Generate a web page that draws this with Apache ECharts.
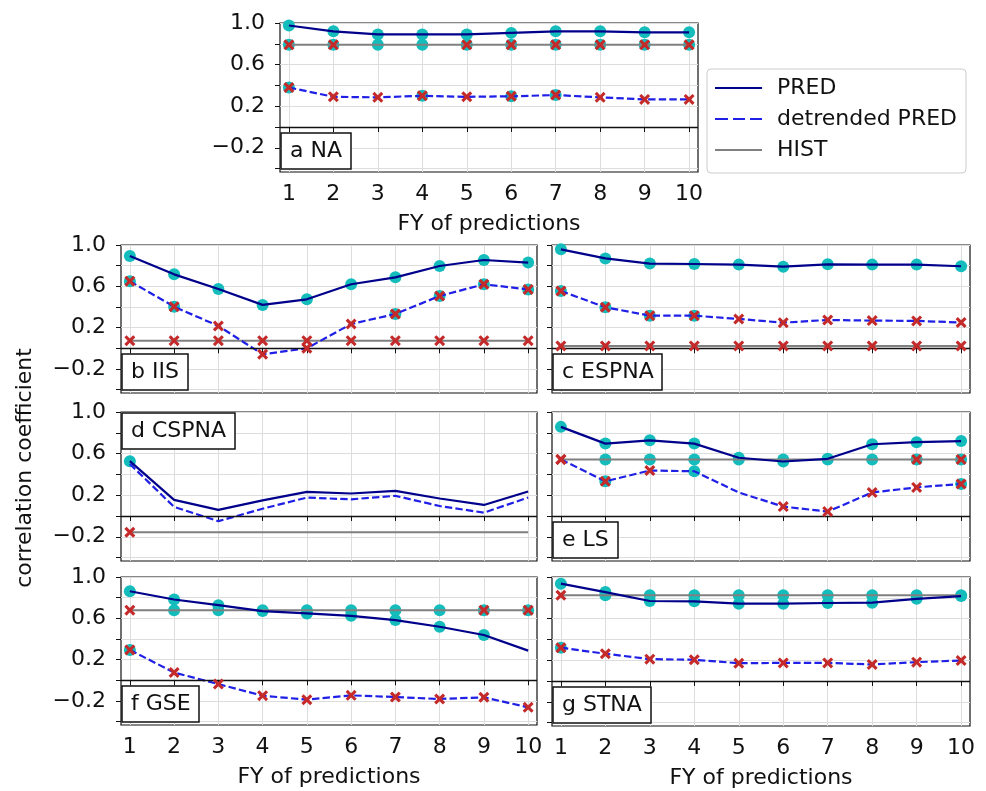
<!DOCTYPE html>
<html>
<head>
<meta charset="utf-8">
<script src="https://cdn.jsdelivr.net/npm/echarts@6/dist/echarts.min.js"></script>
<style>
  html, body { margin: 0; padding: 0; background: #fff; }
  #chart { width: 986px; height: 791px; }
</style>
</head>
<body>
<div id="chart"></div>
<script>
// forecast years and axis ticks
const fy = [1, 2, 3, 4, 5, 6, 7, 8, 9, 10];
const yLabels = [-0.2, 0.2, 0.6, 1.0];
const yTicks = [-0.4, -0.2, 0, 0.2, 0.4, 0.6, 0.8, 1.0];
const regions = ['a NA', 'b IIS', 'c ESPNA', 'd CSPNA', 'e LS', 'f GSE', 'g STNA'];

// correlation values
const predNA = [0.976, 0.92, 0.89, 0.89, 0.89, 0.905, 0.92, 0.92, 0.91, 0.91];
const detrNA = [0.38, 0.29, 0.285, 0.30, 0.29, 0.295, 0.307, 0.285, 0.265, 0.265];
const histNA = 0.79;

const predIIS = [0.894, 0.716, 0.574, 0.42, 0.474, 0.62, 0.687, 0.797, 0.855, 0.83];
const detrIIS = [0.65, 0.403, 0.216, -0.058, 0.0, 0.235, 0.332, 0.506, 0.62, 0.57];
const histIIS = 0.074;

const predESPNA = [0.958, 0.87, 0.82, 0.816, 0.81, 0.79, 0.813, 0.81, 0.81, 0.794];
const detrESPNA = [0.555, 0.397, 0.316, 0.316, 0.284, 0.248, 0.274, 0.268, 0.265, 0.25];
const histESPNA = 0.023;

const predCSPNA = [0.527, 0.155, 0.058, 0.15, 0.232, 0.216, 0.242, 0.168, 0.106, 0.236];
const detrCSPNA = [0.50, 0.087, -0.05, 0.07, 0.177, 0.16, 0.194, 0.096, 0.032, 0.177];
const histCSPNA = -0.156;

const predLS = [0.857, 0.696, 0.728, 0.696, 0.56, 0.524, 0.55, 0.69, 0.71, 0.72];
const detrLS = [0.544, 0.333, 0.437, 0.43, 0.226, 0.09, 0.042, 0.226, 0.275, 0.308];
const histLS = 0.544;

const predGSE = [0.862, 0.782, 0.727, 0.67, 0.647, 0.624, 0.583, 0.518, 0.438, 0.287];
const detrGSE = [0.294, 0.075, -0.037, -0.149, -0.188, -0.146, -0.162, -0.181, -0.165, -0.262];
const histGSE = 0.679;

const predSTNA = [0.936, 0.855, 0.769, 0.766, 0.743, 0.743, 0.75, 0.753, 0.79, 0.817];
const detrSTNA = [0.32, 0.262, 0.21, 0.204, 0.171, 0.174, 0.174, 0.159, 0.181, 0.197];
const histSTNA = 0.824;

// significance markers per FY: o = cyan dot, x = red cross
const markPredNA = ['o','o','o','o','o','o','o','o','o','o'];
const markDetrNA = ['ox','x','x','ox','x','ox','ox','x','x','x'];
const markHistNA = ['ox','ox','o','o','ox','ox','ox','ox','ox','ox'];

const markPredIIS = ['o','o','o','o','o','o','o','o','o','o'];
const markDetrIIS = ['ox','ox','x','x','x','x','ox','ox','ox','ox'];
const markHistIIS = ['x','x','x','x','x','x','x','x','x','x'];

const markPredESPNA = ['o','o','o','o','o','o','o','o','o','o'];
const markDetrESPNA = ['ox','ox','ox','ox','x','x','x','x','x','x'];
const markHistESPNA = ['x','x','x','x','x','x','x','x','x','x'];

const markPredCSPNA = ['o','','','','','','','','',''];
const markDetrCSPNA = ['','','','','','','','','',''];
const markHistCSPNA = ['x','','','','','','','','',''];

const markPredLS = ['o','o','o','o','o','o','o','o','o','o'];
const markDetrLS = ['x','ox','x','o','','x','x','x','x','ox'];
const markHistLS = ['x','o','o','o','o','o','o','o','ox','ox'];

const markPredGSE = ['o','o','o','o','o','o','o','o','o',''];
const markDetrGSE = ['ox','x','x','x','x','x','x','x','x','x'];
const markHistGSE = ['x','o','o','o','o','o','o','o','ox','ox'];

const markPredSTNA = ['o','o','o','o','o','o','o','o','o','o'];
const markDetrSTNA = ['ox','x','x','x','x','x','x','x','x','x'];
const markHistSTNA = ['x','o','o','o','o','o','o','o','o','o'];

const panels = [
  [predNA, detrNA, histNA, markPredNA, markDetrNA, markHistNA],
  [predIIS, detrIIS, histIIS, markPredIIS, markDetrIIS, markHistIIS],
  [predESPNA, detrESPNA, histESPNA, markPredESPNA, markDetrESPNA, markHistESPNA],
  [predCSPNA, detrCSPNA, histCSPNA, markPredCSPNA, markDetrCSPNA, markHistCSPNA],
  [predLS, detrLS, histLS, markPredLS, markDetrLS, markHistLS],
  [predGSE, detrGSE, histGSE, markPredGSE, markDetrGSE, markHistGSE],
  [predSTNA, detrSTNA, histSTNA, markPredSTNA, markDetrSTNA, markHistSTNA]
];

// layout of the seven axes boxes (pixels)
const boxes = [
  { left: 280, top: 23, width: 418, height: 149, xLab: true, yLab: true, tag: 'bottom' },
  { left: 121, top: 245, width: 416, height: 148, xLab: false, yLab: true, tag: 'bottom' },
  { left: 552, top: 245, width: 418, height: 148, xLab: false, yLab: false, tag: 'bottom' },
  { left: 121, top: 412, width: 416, height: 149, xLab: false, yLab: true, tag: 'top' },
  { left: 552, top: 412, width: 418, height: 149, xLab: false, yLab: false, tag: 'bottom' },
  { left: 121, top: 577, width: 416, height: 148, xLab: true, yLab: true, tag: 'bottom' },
  { left: 552, top: 577, width: 418, height: 149, xLab: true, yLab: false, tag: 'bottom' }
];

const FONT = 'DejaVu Sans';
const CYAN = '#14bcbc';
const RED = '#c42a2a';
const CROSS = 'path://M2,0 L5,3 L8,0 L10,2 L7,5 L10,8 L8,10 L5,7 L2,10 L0,8 L3,5 L0,2 Z';
const SOLID_ICON = 'path://M0,0H47V2.2H0Z';
const DASH_ICON = 'path://M0,0H13V2.2H0Z M18,0H30V2.2H18Z M35,0H47V2.2H35Z';

const fmtY = v => (v < 0 ? '\u2212' : '') + Math.abs(v).toFixed(1);

const grids = [], xAxes = [], yAxes = [], series = [], titles = [];

boxes.forEach((b, i) => {
  grids.push({
    left: b.left, top: b.top, width: b.width, height: b.height,
    show: true, borderColor: '#111', borderWidth: 1.2, backgroundColor: 'transparent'
  });
  xAxes.push({
    type: 'value', gridIndex: i, min: 0.8, max: 10.2,
    name: b.xLab ? 'FY of predictions' : '',
    nameLocation: 'middle', nameGap: 41,
    nameTextStyle: { fontSize: 22, color: '#111', fontFamily: FONT },
    axisLine: { show: false },
    axisTick: { show: true, length: 5, customValues: fy, lineStyle: { color: '#111' } },
    axisLabel: { show: b.xLab, customValues: fy, margin: 11, fontSize: 22, color: '#111', fontFamily: FONT },
    splitLine: { show: true, lineStyle: { color: '#dddddd', width: 1 } }
  });
  yAxes.push({
    type: 'value', gridIndex: i, min: -0.433, max: 1.0, splitNumber: 7,
    axisLine: { show: false },
    axisTick: { show: true, length: 5, customValues: yTicks, lineStyle: { color: '#111' } },
    axisLabel: { show: b.yLab, customValues: yLabels, formatter: fmtY, margin: 15, fontSize: 22, color: '#111', fontFamily: FONT },
    splitLine: { show: true, lineStyle: { color: '#dddddd', width: 1 } }
  });
  titles.push({
    text: regions[i],
    left: b.left + 1,
    top: b.tag === 'top' ? b.top + 1 : b.top + b.height - 39,
    padding: [7, 9],
    borderColor: '#111', borderWidth: 1.5, backgroundColor: '#fff',
    textStyle: { fontSize: 22, fontWeight: 'normal', color: '#111', fontFamily: FONT }
  });

  const [pred, detr, hist, mP, mD, mH] = panels[i];
  const histVals = fy.map(() => hist);

  const pts = (vals, marks, ch) => fy.filter((x, k) => marks[k].indexOf(ch) >= 0).map(x => [x, vals[x - 1]]);
  const dots = pts(pred, mP, 'o').concat(pts(detr, mD, 'o'), pts(histVals, mH, 'o'));
  const crosses = pts(pred, mP, 'x').concat(pts(detr, mD, 'x'), pts(histVals, mH, 'x'));

  series.push({
    type: 'scatter', xAxisIndex: i, yAxisIndex: i, data: dots, symbol: 'circle', symbolSize: 12,
    itemStyle: { color: CYAN, opacity: 1 }, z: 2, silent: true
  });
  series.push({
    name: 'HIST', type: 'line', xAxisIndex: i, yAxisIndex: i,
    data: fy.map((x, k) => [x, histVals[k]]), symbol: 'none',
    lineStyle: { color: '#808080', width: 2 }, itemStyle: { color: '#808080' }, z: 3,
    markLine: {
      silent: true, symbol: 'none', label: { show: false },
      lineStyle: { color: '#111', width: 1.4, type: 'solid' },
      data: [{ yAxis: 0 }]
    }
  });
  series.push({
    name: 'PRED', type: 'line', xAxisIndex: i, yAxisIndex: i,
    data: fy.map((x, k) => [x, pred[k]]), symbol: 'none',
    lineStyle: { color: '#00008b', width: 2.2 }, itemStyle: { color: '#00008b' }, z: 4
  });
  series.push({
    name: 'detrended PRED', type: 'line', xAxisIndex: i, yAxisIndex: i,
    data: fy.map((x, k) => [x, detr[k]]), symbol: 'none',
    lineStyle: { color: '#1f1fe6', width: 2.2, type: [7.4, 3.2] }, itemStyle: { color: '#1f1fe6' }, z: 4
  });
  series.push({
    type: 'scatter', xAxisIndex: i, yAxisIndex: i, data: crosses, symbol: CROSS, symbolSize: 11,
    itemStyle: { color: RED, opacity: 1 }, z: 5, silent: true
  });
});

const chart = echarts.init(document.getElementById('chart'), null, { renderer: 'canvas' });
chart.setOption({
  animation: false,
  backgroundColor: '#fff',
  textStyle: { fontFamily: FONT },
  title: titles,
  legend: {
    data: [
      { name: 'PRED', icon: SOLID_ICON },
      { name: 'detrended PRED', icon: DASH_ICON },
      { name: 'HIST', icon: SOLID_ICON }
    ],
    symbolKeepAspect: true,
    orient: 'vertical', left: 707, top: 69,
    padding: [8, 9, 12, 8], itemGap: 9, itemWidth: 47, itemHeight: 14,
    borderColor: '#cccccc', borderWidth: 1, borderRadius: 4,
    textStyle: { fontSize: 22, color: '#111', fontFamily: FONT, padding: [0, 0, 0, 10] },
    selectedMode: false
  },
  grid: grids,
  xAxis: xAxes,
  yAxis: yAxes,
  series: series,
  graphic: [{
    type: 'text', x: 25, y: 468, rotation: Math.PI / 2,
    style: { text: 'correlation coefficient', fontSize: 22, fontFamily: FONT, fill: '#111', textAlign: 'center', textVerticalAlign: 'middle' }
  }]
});
</script>
</body>
</html>
